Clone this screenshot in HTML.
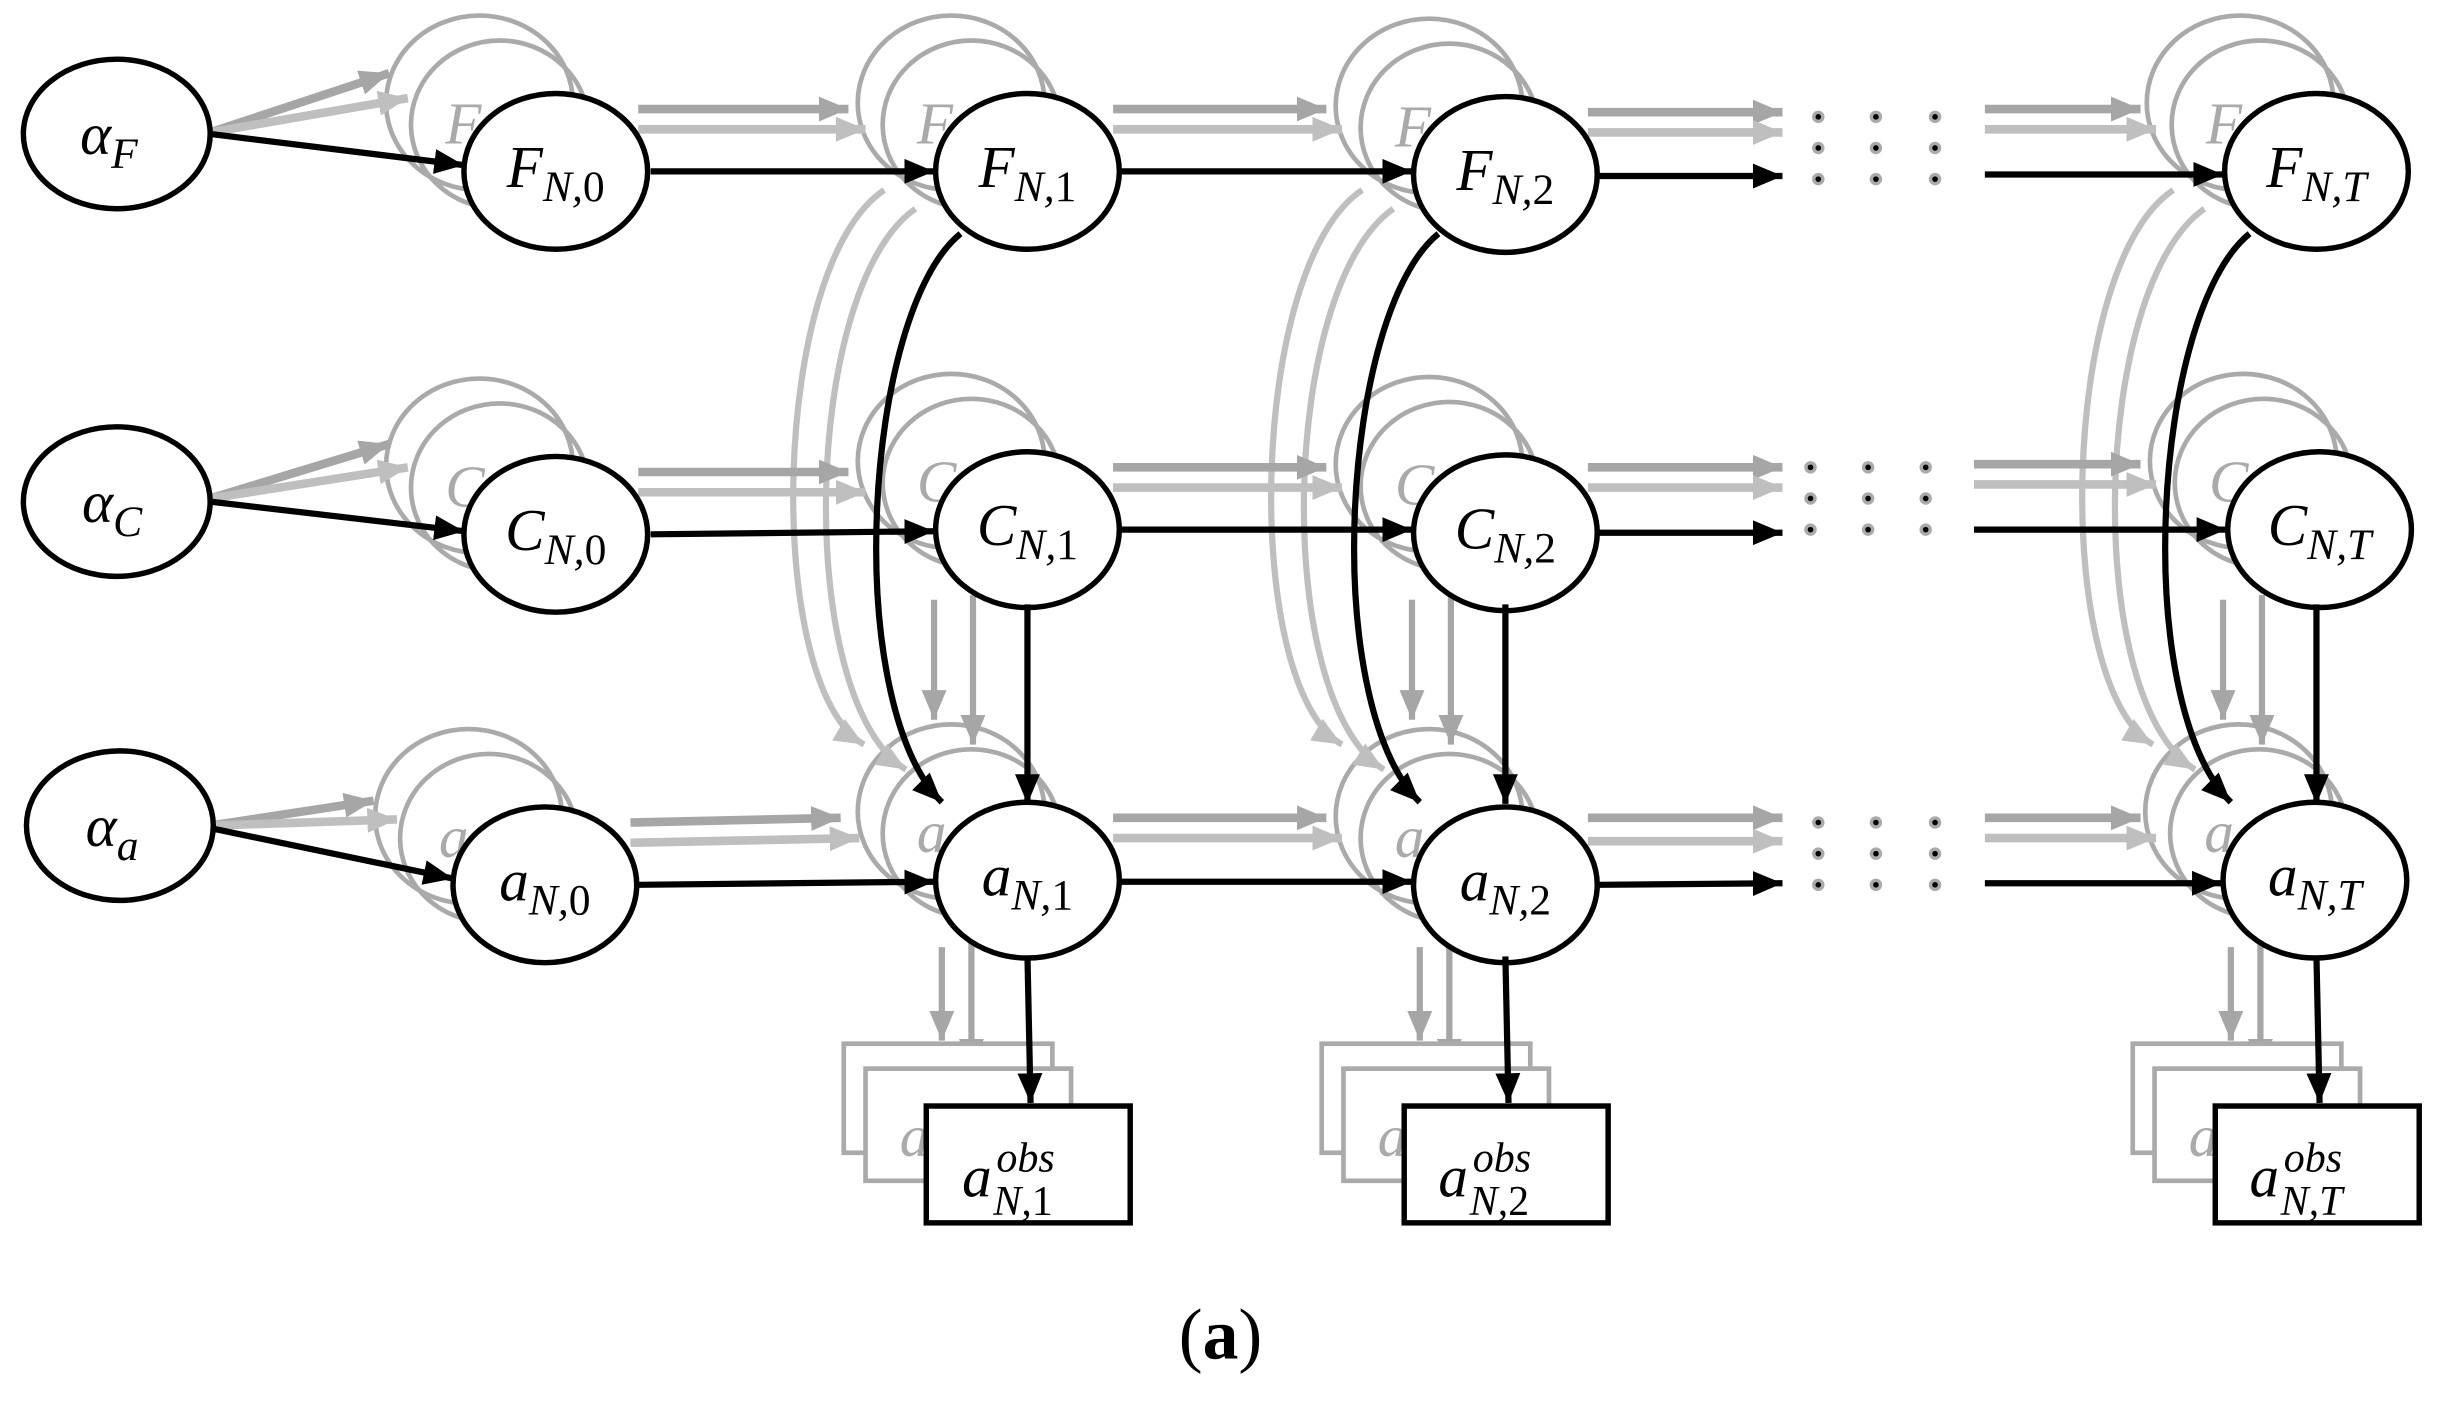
<!DOCTYPE html>
<html><head><meta charset="utf-8"><style>
html,body{margin:0;padding:0;background:#fff;}
svg{display:block;}
text{font-family:"Liberation Serif",serif;font-style:italic;}
.u{font-style:normal;}
</style></head><body>
<svg width="2441" height="1402" viewBox="0 0 1568 900" preserveAspectRatio="none" xmlns="http://www.w3.org/2000/svg">
<defs>
<marker id="mb" markerUnits="userSpaceOnUse" markerWidth="22" markerHeight="18" refX="19" refY="8" orient="auto"><path d="M0,0 L19,8 L0,16 z" fill="#000"/></marker>
<marker id="mg" markerUnits="userSpaceOnUse" markerWidth="22" markerHeight="18" refX="19" refY="8" orient="auto"><path d="M0,0 L19,8 L0,16 z" fill="#a6a6a6"/></marker>
<marker id="ml" markerUnits="userSpaceOnUse" markerWidth="22" markerHeight="18" refX="19" refY="8" orient="auto"><path d="M0,0 L19,8 L0,16 z" fill="#bfbfbf"/></marker>
<g id="gh" fill="none" stroke="#aaa" stroke-width="3">
<ellipse cx="-49" cy="-44" rx="60" ry="56"/>
<ellipse cx="-36" cy="-30" rx="57" ry="54"/>
</g>
<g id="colg" fill="none">
<path d="M568,122 C495,170 490,440 555,478" stroke="#bfbfbf" stroke-width="4" marker-end="url(#ml)"/>
<path d="M588,134 C515,185 510,450 582,494" stroke="#bfbfbf" stroke-width="4" marker-end="url(#ml)"/>
<path d="M600,385 L600,462" stroke="#a6a6a6" stroke-width="4" marker-end="url(#mg)"/>
<path d="M625,382 L625,478" stroke="#a6a6a6" stroke-width="4" marker-end="url(#mg)"/>
<path d="M605,608 L605,668" stroke="#a6a6a6" stroke-width="4" marker-end="url(#mg)"/>
<path d="M624,600 L624,686" stroke="#a6a6a6" stroke-width="4" marker-end="url(#mg)"/>
<rect x="542" y="670" width="134" height="70" fill="#fff" stroke="#aaa" stroke-width="3"/>
<rect x="556" y="686" width="132" height="72" fill="#fff" stroke="#aaa" stroke-width="3"/>
<text x="578" y="742" font-size="38" fill="#aaa">a</text>
</g>
<g id="colb" fill="none" stroke="#000" stroke-width="4">
<path d="M617,150 C555,200 540,450 605,515" marker-end="url(#mb)"/>
<path d="M660,388 L660,516" marker-end="url(#mb)"/>
<path d="M660,614 L662,708" marker-end="url(#mb)"/>
<rect x="595" y="710" width="131" height="75" fill="#fff" stroke-width="3.5"/>
</g>
<g id="dots">
<circle cx="0" cy="0" r="4" fill="#aaa"/><circle cx="0" cy="0" r="1.8" fill="#000"/>
</g>
<g id="dotcol"><use href="#dots" y="-40"/><use href="#dots" y="-20"/><use href="#dots" y="0"/></g>
</defs>

<use href="#gh" x="357" y="110"/><use href="#gh" x="660" y="110"/><use href="#gh" x="967" y="112"/><use href="#gh" x="1488" y="110"/>
<use href="#gh" x="357" y="343"/><use href="#gh" x="660" y="340"/><use href="#gh" x="967" y="342"/><use href="#gh" x="1490" y="340"/>
<use href="#gh" x="350" y="568"/><use href="#gh" x="660" y="565"/><use href="#gh" x="967" y="568"/><use href="#gh" x="1487" y="565"/>
<g fill="#aaa" font-size="38">
<text x="286" y="92">F</text><text x="589" y="92">F</text><text x="896" y="94">F</text><text x="1417" y="92">F</text>
<text x="286" y="325">C</text><text x="589" y="322">C</text><text x="896" y="324">C</text><text x="1419" y="322">C</text>
<text x="282" y="550">a</text><text x="589" y="547">a</text><text x="896" y="550">a</text><text x="1416" y="547">a</text>
</g>

<use href="#colg"/><use href="#colg" x="307"/><use href="#colg" x="828"/>

<g fill="none" stroke-width="5.5">
<g stroke="#a6a6a6" marker-end="url(#mg)">
<path d="M135,85 L250,47"/><path d="M135,320 L250,285"/><path d="M135,530 L240,514"/>
<path d="M410,70 L545,70"/><path d="M715,70 L852,70"/><path d="M1020,72 L1145,72"/><path d="M1275,70 L1375,70"/>
<path d="M410,303 L545,303"/><path d="M715,300 L852,300"/><path d="M1020,300 L1145,300"/><path d="M1268,298 L1375,298"/>
<path d="M405,528 L540,525"/><path d="M715,525 L852,525"/><path d="M1020,525 L1145,525"/><path d="M1275,525 L1375,525"/>
</g>
<g stroke="#bfbfbf" marker-end="url(#ml)">
<path d="M135,85 L262,63"/><path d="M135,320 L262,300"/><path d="M135,530 L255,526"/>
<path d="M410,83 L556,83"/><path d="M715,83 L862,83"/><path d="M1020,85 L1145,85"/><path d="M1275,83 L1385,83"/>
<path d="M410,316 L556,316"/><path d="M715,313 L862,313"/><path d="M1020,313 L1145,313"/><path d="M1268,311 L1385,311"/>
<path d="M405,541 L552,538"/><path d="M715,538 L862,538"/><path d="M1020,540 L1145,540"/><path d="M1275,538 L1385,538"/>
</g>
</g>

<g fill="#fff" stroke="#000" stroke-width="3.5">
<ellipse cx="75" cy="86" rx="60" ry="48"/><ellipse cx="75" cy="322" rx="60" ry="48"/><ellipse cx="77" cy="530" rx="60" ry="48"/>
<ellipse cx="357" cy="110" rx="59" ry="50"/><ellipse cx="660" cy="110" rx="59" ry="50"/><ellipse cx="967" cy="112" rx="59" ry="50"/><ellipse cx="1488" cy="110" rx="59" ry="50"/>
<ellipse cx="357" cy="343" rx="59" ry="50"/><ellipse cx="660" cy="340" rx="59" ry="50"/><ellipse cx="967" cy="342" rx="59" ry="50"/><ellipse cx="1490" cy="340" rx="59" ry="50"/>
<ellipse cx="350" cy="568" rx="59" ry="50"/><ellipse cx="660" cy="565" rx="59" ry="50"/><ellipse cx="967" cy="568" rx="59" ry="50"/><ellipse cx="1487" cy="565" rx="59" ry="50"/>
</g>

<use href="#colb"/><use href="#colb" x="307"/><use href="#colb" x="828"/>
<g fill="none" stroke="#000" stroke-width="4" marker-end="url(#mb)">
<path d="M135,86 L298,106"/><path d="M135,322 L298,341"/><path d="M137,532 L291,564"/>
<path d="M418,110 L600,110"/><path d="M720,110 L907,110"/><path d="M1027,113 L1145,113"/><path d="M1275,112 L1428,112"/>
<path d="M418,343 L600,341"/><path d="M720,340 L907,340"/><path d="M1027,342 L1145,342"/><path d="M1268,340 L1430,340"/>
<path d="M410,568 L600,566"/><path d="M720,566 L907,566"/><path d="M1027,568 L1145,567"/><path d="M1275,567 L1427,567"/>
</g>

<use href="#dotcol" x="1168" y="115"/><use href="#dotcol" x="1205" y="115"/><use href="#dotcol" x="1243" y="115"/>
<use href="#dotcol" x="1163" y="340"/><use href="#dotcol" x="1200" y="340"/><use href="#dotcol" x="1237" y="340"/>
<use href="#dotcol" x="1168" y="568"/><use href="#dotcol" x="1205" y="568"/><use href="#dotcol" x="1243" y="568"/>

<g fill="#000" font-size="38" text-anchor="middle">
<text x="70" y="99">α<tspan font-size="28" dy="9">F</tspan></text>
<text x="72" y="335">α<tspan font-size="28" dy="9">C</tspan></text>
<text x="72" y="543">α<tspan font-size="28" dy="9">a</tspan></text>

<text x="357" y="120">F<tspan font-size="28" dy="9">N,<tspan class="u">0</tspan></tspan></text>
<text x="660" y="120">F<tspan font-size="28" dy="9">N,<tspan class="u">1</tspan></tspan></text>
<text x="967" y="122">F<tspan font-size="28" dy="9">N,<tspan class="u">2</tspan></tspan></text>
<text x="1488" y="120">F<tspan font-size="28" dy="9">N,T</tspan></text>

<text x="357" y="353">C<tspan font-size="28" dy="9">N,<tspan class="u">0</tspan></tspan></text>
<text x="660" y="350">C<tspan font-size="28" dy="9">N,<tspan class="u">1</tspan></tspan></text>
<text x="967" y="352">C<tspan font-size="28" dy="9">N,<tspan class="u">2</tspan></tspan></text>
<text x="1490" y="350">C<tspan font-size="28" dy="9">N,T</tspan></text>

<text x="350" y="578">a<tspan font-size="28" dy="9">N,<tspan class="u">0</tspan></tspan></text>
<text x="660" y="575">a<tspan font-size="28" dy="9">N,<tspan class="u">1</tspan></tspan></text>
<text x="967" y="578">a<tspan font-size="28" dy="9">N,<tspan class="u">2</tspan></tspan></text>
<text x="1487" y="575">a<tspan font-size="28" dy="9">N,T</tspan></text>
</g>
<g fill="#000" font-size="38">
<text x="618" y="768">a</text><text x="640" y="752" font-size="27">obs</text><text x="638" y="780" font-size="27">N,<tspan class="u">1</tspan></text>
<text x="924" y="768">a</text><text x="946" y="752" font-size="27">obs</text><text x="944" y="780" font-size="27">N,<tspan class="u">2</tspan></text>
<text x="1445" y="768">a</text><text x="1467" y="752" font-size="27">obs</text><text x="1465" y="780" font-size="27">N,T</text>
</g>
<text x="784" y="872" font-size="46" text-anchor="middle" style="font-style:normal"><tspan font-weight="normal">(</tspan><tspan font-weight="bold">a</tspan><tspan font-weight="normal">)</tspan></text>
</svg>
</body></html>
